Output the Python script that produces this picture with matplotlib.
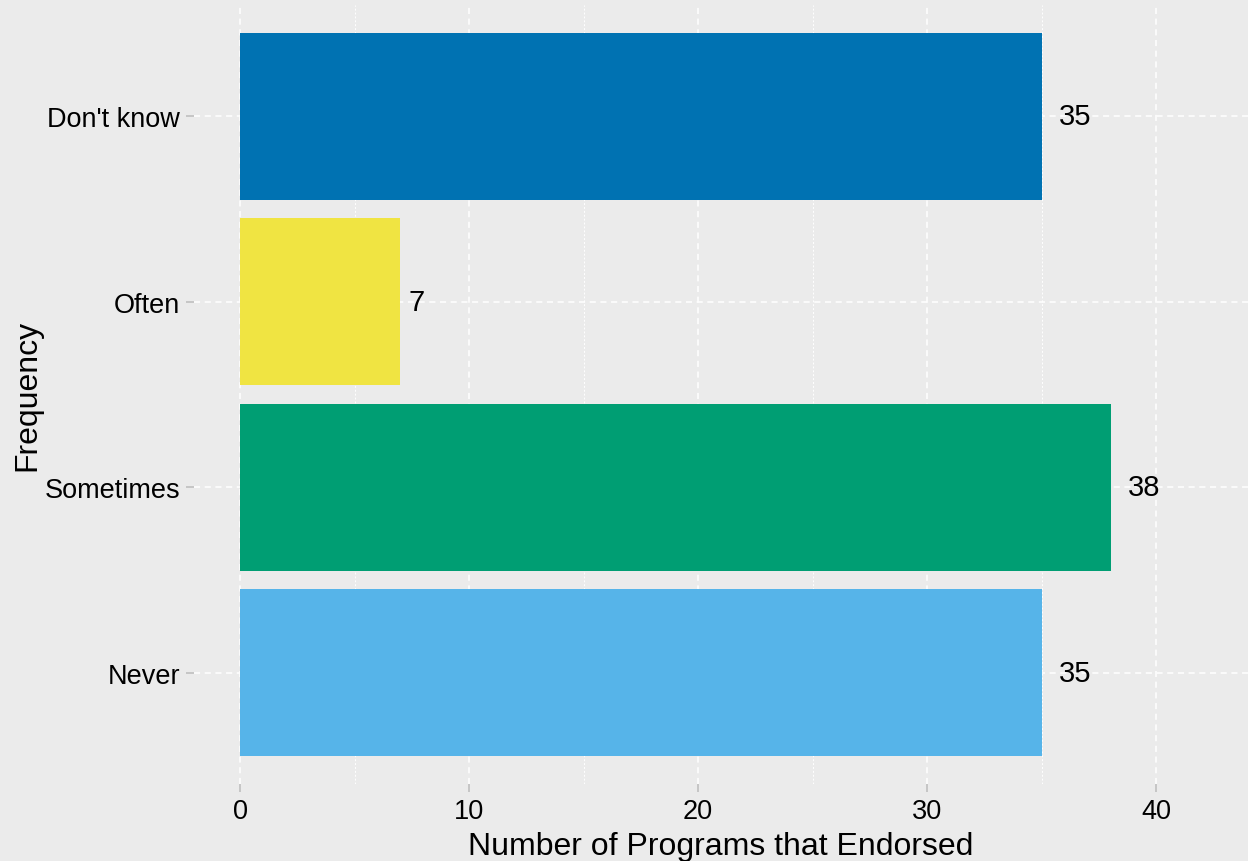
import matplotlib.pyplot as plt
from matplotlib.ticker import MultipleLocator

plt.rcParams['font.family'] = ['Liberation Sans', 'DejaVu Sans']

# Data (bottom to top)
categories = ['Never', 'Sometimes', 'Often', "Don't know"]
counts = [35, 38, 7, 35]
colors = ['#56B4E9', '#009E73', '#F0E442', '#0072B2']

bg = '#EBEBEB'

fig = plt.figure(figsize=(12.48, 8.62), dpi=100, facecolor=bg)
ax = fig.add_axes([0.1556, 0.0893, 0.8444, 0.9037])
ax.set_facecolor(bg)

ypos = list(range(1, len(categories) + 1))
ax.barh(ypos, counts, height=0.9, color=colors, zorder=3)

# value labels to the right of each bar, offset by half the label width
for y, v in zip(ypos, counts):
    s = str(v)
    ax.annotate(s, xy=(v, y), xytext=(6.2 * len(s), 0), textcoords='offset points',
                ha='left', va='center', fontsize=21, color='black', zorder=4)

ax.set_xlim(-2, 44)
ax.set_ylim(0.4, 4.6)
ax.set_yticks(ypos)
ax.set_yticklabels(categories)
ax.xaxis.set_major_locator(MultipleLocator(10))
ax.xaxis.set_minor_locator(MultipleLocator(5))
ax.set_xticks([0, 10, 20, 30, 40])

# grid: dashed white majors, dotted minors
ax.grid(which='major', color='white', linestyle=(0, (4, 3)), linewidth=1.1, zorder=0)
ax.grid(which='minor', axis='x', color='white', linestyle=(0, (2, 2)), linewidth=0.7, zorder=0)
ax.set_axisbelow(True)

for s in ax.spines.values():
    s.set_visible(False)

ax.tick_params(axis='both', which='major', length=6, width=1.1, color='#BBBBBB',
               labelsize=19.5, labelcolor='black', pad=4)
ax.tick_params(axis='x', which='minor', length=0)

ax.set_xlabel('Number of Programs that Endorsed', fontsize=23, labelpad=5)
ax.set_ylabel('Frequency', fontsize=23, labelpad=2)

fig.savefig('out.png', dpi=100, facecolor=bg)
